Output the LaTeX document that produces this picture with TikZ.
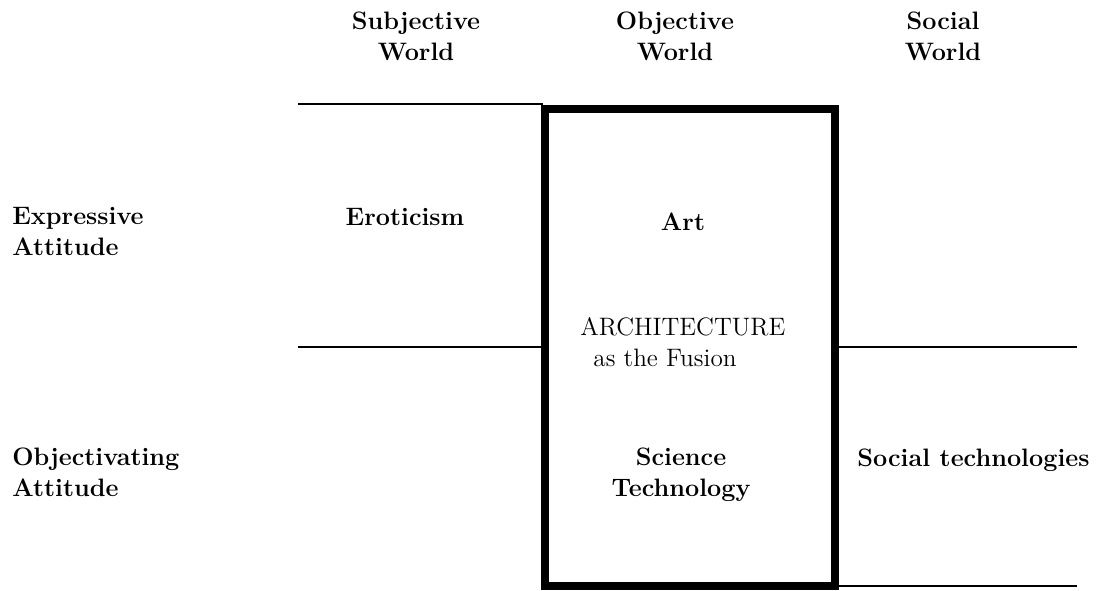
\documentclass[tikz,border=0pt]{standalone}
\usepackage{fontspec}
\usetikzlibrary{positioning}
\tikzset{
  lbl/.style={font=\fontsize{12.6}{15.5}\selectfont\bfseries, inner sep=0pt, align=#1},
  lbl/.default=center,
  plain/.style={font=\fontsize{12.6}{15.5}\selectfont, inner sep=0pt, align=left},
  gridline/.style={line width=1.2pt},
  fusionline/.style={line width=4pt},
}

\begin{document}
\begin{tikzpicture}[x=0.5pt, y=-0.5pt]
  \useasboundingbox (0,0) rectangle (1106,590);

  % column heads
  \node[lbl, anchor=north] (subj) at (416,12) {Subjective\\World};
  \node[lbl, anchor=north] (obj)  at (675,12) {Objective\\World};
  \node[lbl, anchor=north] (soc)  at (943,12) {Social\\World};

  % row heads
  \node[lbl=left, anchor=north west] (expr) at (12,207) {Expressive\\Attitude};
  \node[lbl=left, anchor=north west] (objv) at (12,447) {Objectivating\\Attitude};

  % grid lines
  \draw[gridline] (298,104) -- (543,104);
  \draw[gridline] (298,347) -- (543,347);
  \draw[gridline] (836,347) -- (1077,347);
  \draw[gridline] (836,586) -- (1077,586);

  % the fusion box
  \draw[fusionline] (545,109) rectangle (835,586);

  % cells
  \node[lbl, anchor=north] (erot) at (405,208) {Eroticism};
  \node[lbl, anchor=north] (art)  at (683,212) {Art};
  \node[plain, anchor=north west] (arch) at (580,317) {ARCHITECTURE\\\hspace{6.5pt}as the Fusion};
  \node[lbl, anchor=north] (sci)  at (681,447) {Science\\Technology};
  \node[lbl=left, anchor=north west] (stech) at (857,448) {Social technologies};
\end{tikzpicture}
\end{document}
